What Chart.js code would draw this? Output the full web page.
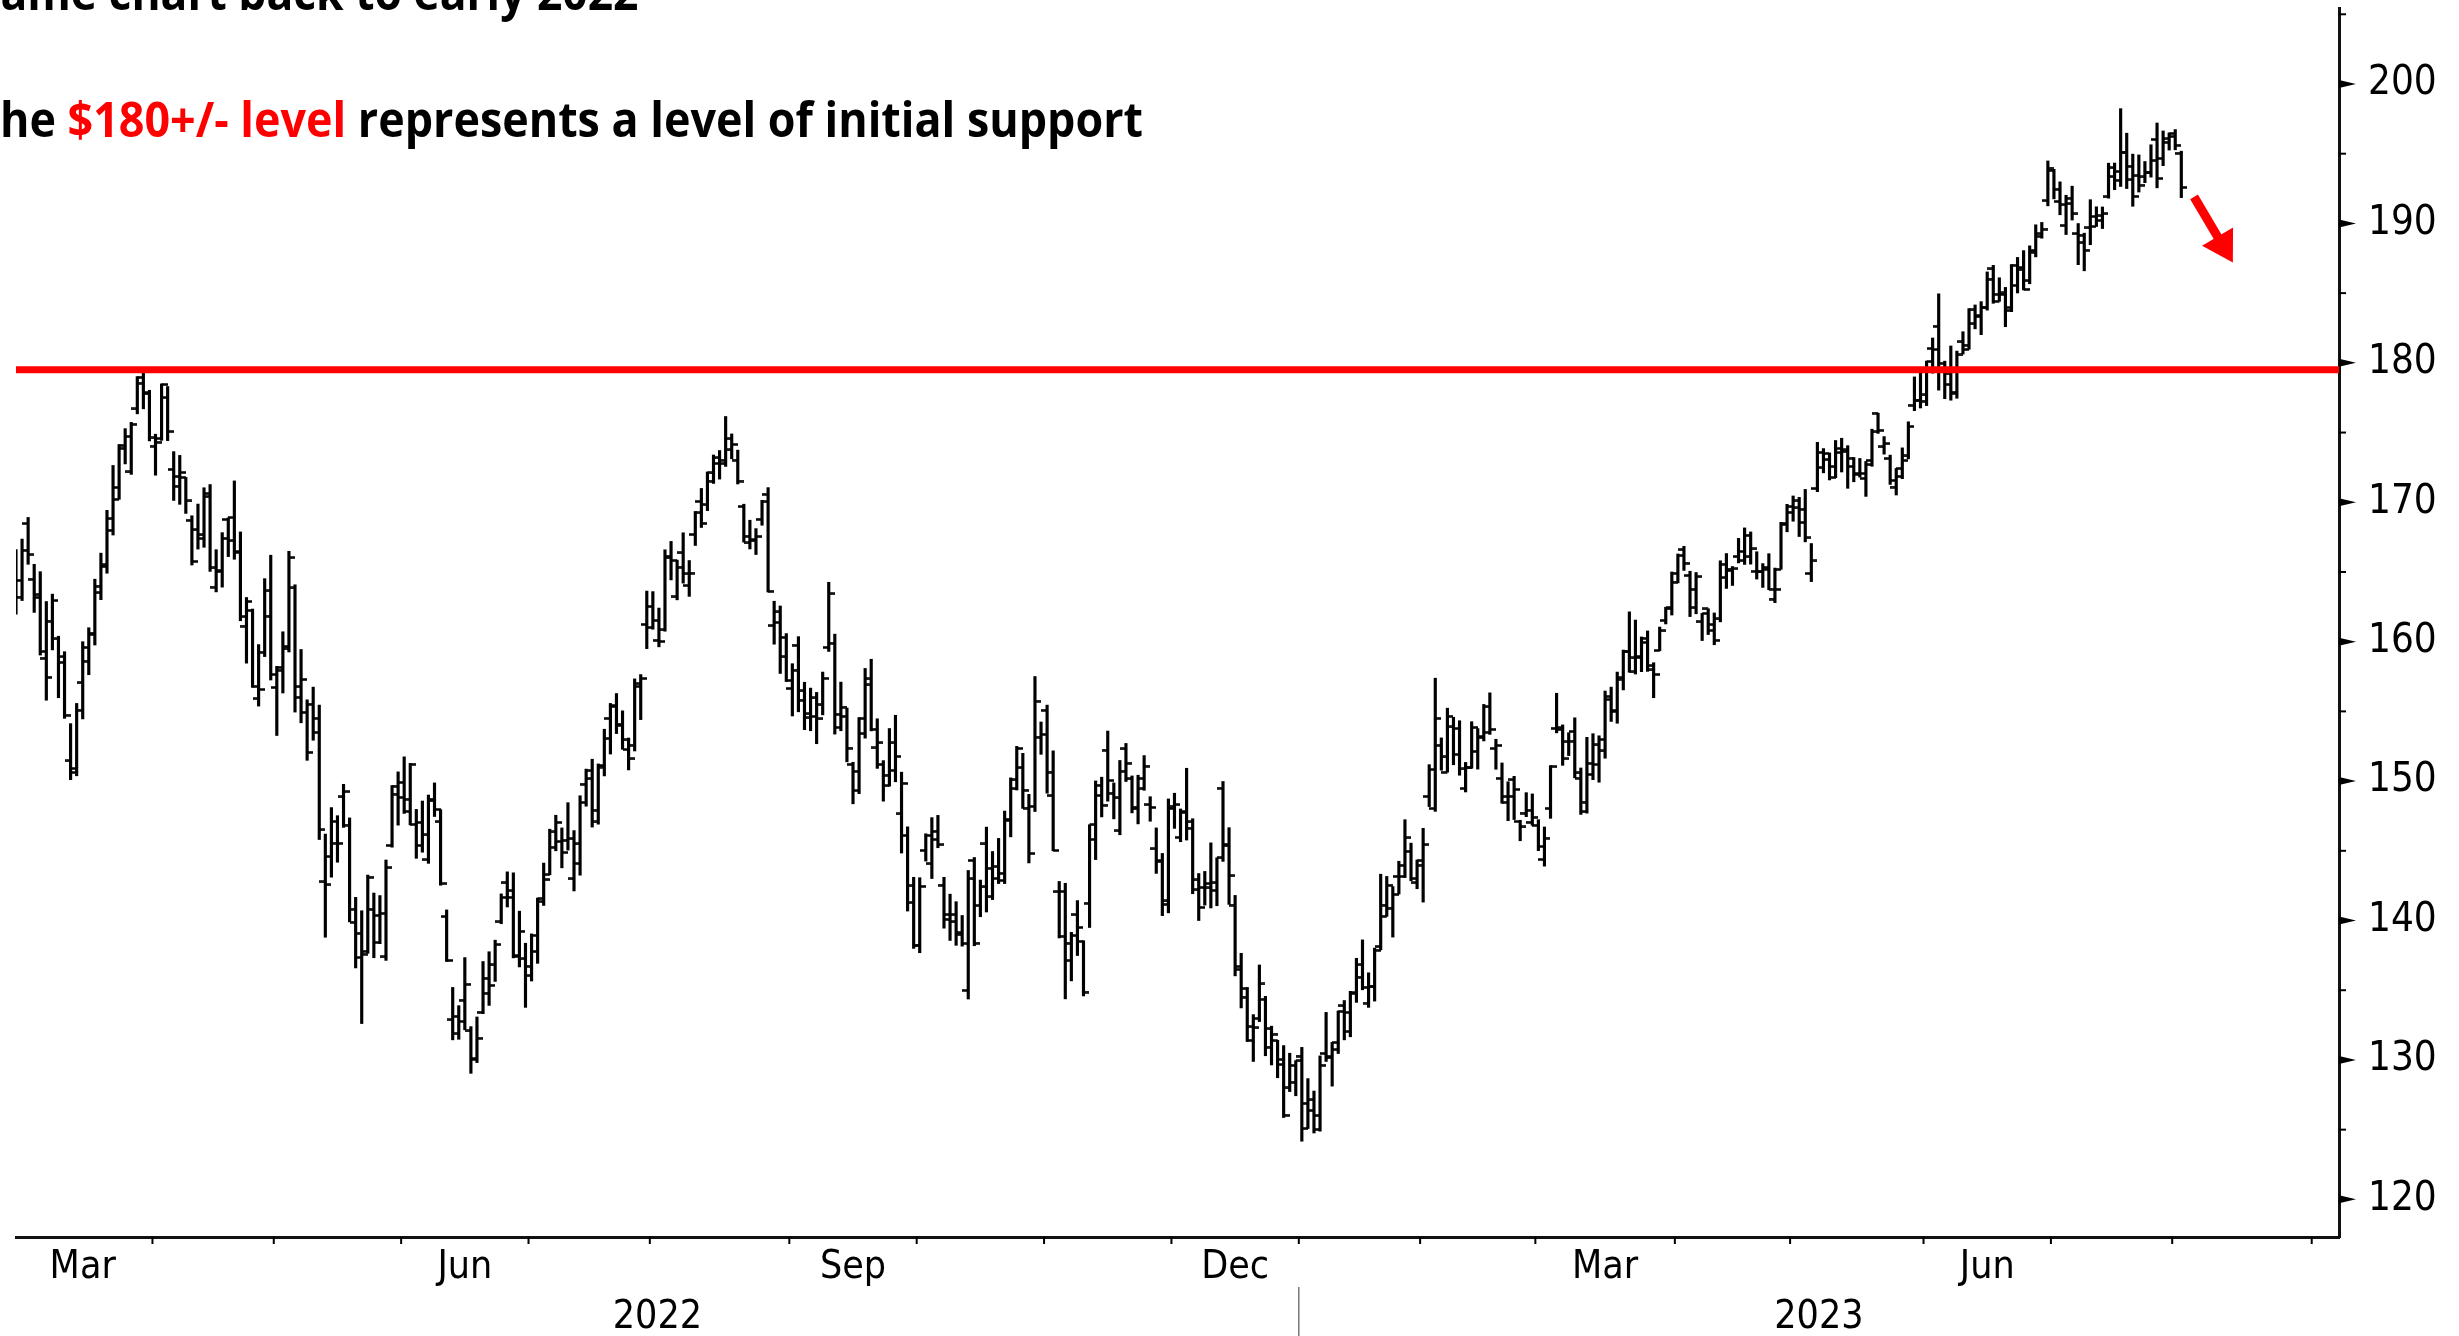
<!DOCTYPE html>
<html>
<head>
<meta charset="utf-8">
<title>Daily bars Mar 2022 - Aug 2023</title>
<script src="https://cdn.jsdelivr.net/npm/chart.js@4.4.1/dist/chart.umd.min.js"></script>
<style>
html, body { margin: 0; padding: 0; background: #fff; overflow: hidden; }
#page { position: relative; width: 2459px; height: 1336px; overflow: hidden; }
#chart-box { position: absolute; left: 0; top: 0; width: 2459px; height: 1336px; }
.note { position: absolute; left: 0; top: 0; white-space: nowrap; font-family: "Liberation Sans Narrow", "Open Sans", sans-serif; font-weight: bold; font-size: 49px; line-height: 1; color: #000; }
.note .red { color: #ff0000; }
.bl { display: inline-block; width: 0; height: 0; }
</style>
</head>
<body>
<div id="page">
  <div id="chart-box"><canvas id="chart"></canvas></div>
  <div class="note" id="note1"><span class="cut">S</span>ame chart back to early 2022<span class="bl"></span></div>
  <div class="note" id="note2"><span class="cut">T</span>he <span class="red">$180+/- level</span> represents a level of initial support<span class="bl"></span></div>
</div>
<script>
// months on the axis and how many trading days each one has (last one only partly shown)
var months = ['Mar','Apr','May','Jun','Jul','Aug','Sep','Oct','Nov','Dec','Jan','Feb','Mar','Apr','May','Jun','Jul','Aug','Sep'];
var monthYear = [2022,2022,2022,2022,2022,2022,2022,2022,2022,2022,2023,2023,2023,2023,2023,2023,2023,2023,2023];
var tradingDays = [23,20,21,21,20,23,21,21,21,21,20,19,23,19,22,21,20,23,5];
var monthTickLabels = ['Mar','','','Jun','','','Sep','','','Dec','','','Mar','','','Jun','','',''];
var years = ['2022','2023'];

var yTicks = [120,125,130,135,140,145,150,155,160,165,170,175,180,185,190,195,200,205];
var supportLevel = 179.5;

var opens = [
  164.70,164.39,168.47,164.49,163.36,158.82,161.48,160.20,158.93,151.45,150.90,157.05,158.61,160.51,163.51,165.51,167.99,171.06,173.88,172.17,176.69,178.55,177.84,
  174.03,174.57,177.50,172.36,171.16,171.78,168.71,168.02,167.39,170.62,163.92,165.02,168.76,168.91,166.46,161.12,162.25,155.91,159.25,161.84,
  156.71,158.15,159.67,163.85,156.01,154.93,155.52,153.50,142.77,144.59,145.55,148.86,146.85,139.88,139.09,137.79,140.81,138.43,137.39,145.39,149.07,
  149.90,147.83,146.90,147.03,144.35,148.58,147.08,140.28,132.87,133.13,134.29,132.08,130.07,133.42,134.79,136.82,139.90,142.70,142.13,137.46,137.25,
  136.04,137.77,141.35,143.29,145.26,145.67,145.76,142.99,144.08,149.78,150.74,147.92,151.12,154.50,155.39,154.01,152.26,152.58,156.98,161.24,
  161.01,160.10,160.84,166.01,163.21,166.37,164.02,167.68,170.06,169.82,171.52,172.78,172.77,173.75,173.03,169.69,167.08,167.32,168.78,170.57,161.15,162.13,160.31,
  156.64,159.75,156.47,154.82,154.64,155.47,159.59,159.90,154.79,154.65,151.21,149.31,153.40,157.34,152.38,151.19,149.66,152.74,147.64,146.10,141.28,
  138.21,145.03,144.07,145.81,142.54,140.42,139.90,139.13,134.99,144.31,141.07,145.49,141.69,143.02,142.87,147.19,150.09,150.96,148.07,148.20,153.16,
  155.08,148.95,142.06,142.09,137.11,140.41,138.50,141.24,145.82,148.97,152.22,149.13,146.43,152.31,150.16,148.13,149.45,148.31,145.14,144.29,141.40,
  148.21,145.96,147.77,147.07,142.19,142.36,142.34,142.70,149.50,145.35,141.11,136.69,135.11,131.39,132.98,134.35,130.92,131.38,129.67,127.99,128.41,
  130.28,126.89,127.13,126.01,130.47,130.26,131.25,133.88,132.03,134.83,136.82,134.08,135.28,138.12,140.31,140.89,143.17,143.16,144.96,142.70,
  143.97,148.90,148.03,152.57,150.64,153.88,153.78,149.46,150.95,152.12,153.11,153.51,152.35,150.20,148.87,150.09,147.11,147.71,147.05,
  146.83,144.38,148.04,153.79,153.70,152.81,153.56,150.21,147.81,151.28,151.19,152.16,156.08,155.07,157.32,159.30,158.83,158.86,159.94,157.97,159.37,161.53,162.44,
  164.27,166.60,164.74,162.43,161.42,162.35,161.22,161.63,164.59,165.09,166.10,165.80,166.09,165.05,165.00,165.19,163.06,165.19,168.49,
  169.28,170.09,169.50,164.89,170.98,172.48,173.05,172.55,173.85,173.62,173.16,171.99,171.71,173.00,176.39,173.98,173.13,171.09,172.41,173.32,176.96,177.33,
  177.70,181.03,182.63,179.97,178.44,177.90,181.50,181.27,182.80,183.37,183.96,186.73,184.41,184.90,183.74,185.55,186.83,185.89,187.93,189.08,191.63,
  193.78,191.57,189.84,191.41,189.26,189.16,189.68,190.50,190.23,191.90,193.35,193.10,195.09,194.10,193.41,193.33,193.67,196.02,194.67,196.06,
  196.24,195.04
];
var highs = [
  166.60,167.36,168.91,165.55,165.02,162.88,163.41,160.39,159.28,154.12,155.57,160.00,161.00,164.48,166.35,169.42,172.64,174.14,175.28,175.73,179.01,179.61,178.03,
  174.88,178.49,178.30,173.63,173.36,171.78,169.03,169.87,171.04,171.27,166.60,167.82,168.88,171.53,167.87,163.17,162.34,159.79,164.52,166.20,
  158.23,160.71,166.48,164.08,159.44,155.83,156.74,155.45,146.20,148.10,147.52,149.77,147.36,141.66,140.70,143.26,141.97,141.79,144.34,149.68,150.66,
  151.74,151.27,147.97,148.57,149.00,149.87,147.95,140.76,135.20,133.89,137.34,132.39,133.08,137.06,137.76,138.59,141.91,143.49,143.42,140.67,138.37,
  139.04,141.61,144.12,146.55,147.55,146.64,148.45,146.45,148.95,150.86,151.57,151.23,153.72,155.57,156.28,155.04,153.09,157.33,157.64,163.63,
  163.59,162.41,166.59,167.19,165.85,167.81,165.82,169.34,170.99,172.17,173.39,173.71,176.15,174.90,173.74,169.86,168.71,168.11,170.14,171.05,162.90,162.56,160.58,
  158.42,160.36,157.09,156.67,156.36,157.82,164.26,160.54,157.10,155.24,151.35,154.56,158.08,158.74,154.47,151.47,153.77,154.72,150.64,146.72,143.10,
  143.07,146.22,147.38,147.54,143.10,141.89,141.35,140.36,143.59,144.52,142.90,146.70,144.95,145.89,147.85,150.23,152.49,151.99,149.05,157.50,154.24,
  155.45,152.17,142.80,142.67,139.15,141.43,138.55,146.87,150.01,150.28,153.59,149.87,151.48,152.70,150.37,150.42,151.83,148.88,146.64,144.81,148.72,
  149.13,148.00,150.92,147.30,143.37,143.52,145.57,144.50,149.97,146.66,141.80,137.65,135.20,133.25,136.81,134.56,132.42,131.41,131.03,130.48,129.95,
  130.90,128.66,127.77,130.29,133.41,131.26,133.51,134.26,134.92,137.29,138.61,136.25,138.02,143.32,143.16,142.43,144.25,147.23,145.55,144.34,
  146.61,151.18,157.38,153.10,155.23,154.58,154.33,151.34,154.26,153.77,155.50,156.33,153.00,151.30,149.95,150.34,147.19,149.17,149.08,
  147.23,146.71,151.11,156.30,154.03,153.47,154.54,150.94,153.14,153.40,153.25,156.46,156.74,157.82,159.40,162.14,161.55,160.34,160.77,158.49,161.05,162.47,165.00,
  166.29,166.84,165.05,164.96,162.03,162.36,162.06,165.80,166.32,165.39,167.41,168.16,167.87,166.45,165.60,166.31,165.28,168.56,169.85,
  170.45,170.35,170.92,167.04,174.30,173.85,173.54,174.43,174.59,174.06,173.21,173.14,172.93,175.24,176.39,174.71,173.38,172.42,173.90,175.77,178.99,179.35,
  180.12,181.78,184.95,180.12,181.21,180.84,182.23,183.89,184.15,184.39,186.52,186.99,186.10,185.41,187.05,187.56,188.05,188.39,189.90,190.07,194.48,
  193.88,192.98,192.02,192.67,189.99,189.30,191.70,191.19,191.18,194.32,194.33,198.23,196.47,194.97,194.91,194.44,195.64,197.20,196.63,196.49,
  196.73,195.18
];
var lows = [
  161.97,162.95,165.55,162.10,159.04,155.80,159.41,155.98,154.50,150.10,150.38,154.46,157.63,159.76,163.01,164.91,167.65,170.21,172.75,172.00,176.34,176.70,174.40,
  171.94,174.44,174.42,170.13,169.85,169.20,165.50,166.64,166.77,165.04,163.57,163.91,166.10,165.91,161.50,158.46,156.72,155.38,158.93,157.25,
  153.27,156.32,159.26,154.95,154.18,151.49,152.93,145.81,138.80,143.11,144.18,146.68,139.90,136.60,132.61,137.65,137.33,138.34,137.14,145.26,146.84,
  147.68,146.86,144.46,144.90,144.10,147.46,142.53,137.06,131.44,131.48,132.16,129.04,129.81,133.32,133.91,135.63,139.77,140.97,137.32,136.67,133.77,
  135.66,136.93,141.08,143.28,145.00,143.78,145.05,142.12,143.25,148.20,146.70,146.91,150.37,151.94,153.41,152.28,150.80,152.16,154.41,159.50,
  160.89,159.63,160.75,164.43,163.00,164.20,163.25,166.90,168.19,169.40,171.35,171.66,172.57,173.12,171.31,167.14,166.65,166.25,168.35,163.56,159.82,157.72,157.14,
  154.67,154.97,153.69,153.61,152.68,154.75,159.30,153.37,153.61,151.38,148.37,149.10,153.08,153.60,150.91,148.56,149.64,149.95,144.84,140.68,138.00,
  137.69,144.26,143.01,145.22,139.45,138.57,138.22,138.16,134.37,138.19,140.27,140.61,141.50,142.65,142.65,146.00,149.36,148.04,144.13,147.82,151.92,
  149.13,145.00,138.75,134.38,135.67,137.49,134.59,139.50,144.37,147.43,148.56,147.29,146.15,149.97,147.72,146.93,149.34,147.12,143.38,140.35,140.55,
  146.61,145.65,145.77,141.92,140.00,141.10,140.90,141.06,144.24,141.16,136.03,133.73,131.32,129.89,132.75,130.30,129.64,128.72,125.87,127.73,127.43,
  124.17,125.08,124.76,124.89,129.89,128.12,130.46,131.44,131.66,134.13,135.03,133.77,134.22,137.90,140.30,138.81,141.90,143.08,142.85,142.28,
  141.32,148.17,147.83,150.78,150.64,151.17,150.42,149.22,150.92,150.86,152.88,153.35,150.85,148.41,147.16,147.24,145.72,147.45,146.83,
  145.01,143.90,147.33,153.46,151.13,151.83,150.23,147.61,147.70,150.10,149.92,151.64,154.28,154.15,156.54,157.81,157.68,157.85,157.87,155.98,159.35,161.27,161.91,
  164.22,165.11,161.80,162.00,160.08,160.51,159.78,161.42,163.82,164.03,165.65,165.54,165.56,164.49,163.89,163.73,162.80,165.19,167.88,
  168.64,167.54,167.16,164.31,170.76,172.11,171.60,171.76,172.17,171.00,171.47,171.80,170.42,172.58,174.94,173.45,171.28,170.52,171.69,173.11,176.57,176.76,
  176.93,179.26,178.04,177.43,177.32,177.46,180.63,180.97,182.44,182.02,183.78,184.27,184.41,182.59,183.67,185.01,185.23,185.67,187.60,188.94,191.26,
  191.76,190.62,189.20,190.24,187.04,186.60,188.47,189.78,189.63,191.81,192.42,192.65,192.50,191.23,192.25,192.92,193.32,192.55,194.14,195.26,
  195.28,191.85
];
var closes = [
  163.20,166.56,166.23,163.17,159.30,157.44,162.95,158.52,154.73,150.62,155.09,159.59,160.62,163.98,165.38,168.82,170.21,174.07,174.72,175.60,178.96,177.77,174.61,
  174.31,178.44,175.06,171.83,172.14,170.09,165.75,167.66,170.40,165.29,165.07,167.40,167.23,166.42,161.79,162.88,156.80,156.57,163.64,157.65,
  157.96,159.48,166.02,156.77,157.28,152.06,154.51,146.50,142.56,147.11,145.54,149.24,140.82,137.35,137.59,143.11,140.36,140.52,143.78,149.64,148.84,
  148.71,151.21,145.38,146.14,148.71,147.96,142.64,137.13,131.88,132.76,135.43,130.06,131.56,135.87,135.35,138.27,141.66,141.66,137.44,139.23,136.72,
  138.93,141.56,142.92,146.35,147.04,144.87,145.86,145.49,148.47,150.17,147.07,151.00,153.04,155.35,154.09,152.95,151.60,156.79,157.35,162.51,
  161.51,160.01,166.13,165.81,165.35,164.87,164.92,169.24,168.49,172.10,173.19,173.03,174.55,174.15,171.52,167.57,167.23,167.53,170.03,163.62,161.38,158.91,157.22,
  157.96,155.81,154.53,155.96,154.46,157.37,163.43,153.84,155.31,152.37,150.70,154.48,156.90,153.72,152.74,150.43,150.77,151.76,149.84,142.48,138.20,
  142.45,146.10,146.40,145.43,140.09,140.42,138.98,138.34,142.99,138.38,142.41,143.75,143.86,143.39,147.27,149.45,152.34,149.35,144.80,155.74,153.34,
  150.65,145.03,138.88,138.38,138.92,139.50,134.87,146.87,149.70,148.28,150.04,148.79,150.72,151.29,148.01,150.18,151.07,148.11,144.22,141.17,148.03,
  148.31,147.81,146.63,142.91,140.94,142.65,142.16,144.49,145.47,143.21,136.50,134.51,132.37,132.30,135.45,132.23,131.86,130.03,126.04,129.61,129.93,
  125.07,126.36,125.02,129.62,130.15,130.73,133.49,133.41,134.76,135.94,135.21,135.27,137.87,141.11,142.53,141.86,143.96,145.93,143.00,144.29,
  145.43,150.82,154.50,151.73,154.65,151.92,150.87,151.01,153.85,153.20,155.33,153.71,152.55,148.48,148.91,149.40,146.71,147.92,147.41,
  145.31,145.91,151.03,153.83,151.60,152.87,150.59,148.50,150.47,152.59,152.99,155.85,155.00,157.40,159.28,157.83,158.93,160.25,158.28,157.65,160.77,162.36,164.90,
  166.17,165.63,163.76,164.66,162.03,160.80,160.10,165.56,165.21,165.23,166.47,167.63,166.65,165.02,165.33,163.77,163.76,168.41,169.68,
  169.59,168.54,167.45,165.79,173.57,173.50,171.77,173.56,173.75,172.57,172.07,172.07,172.69,175.05,175.16,174.20,171.56,171.84,172.99,175.43,177.30,177.25,
  180.09,180.95,179.58,179.21,177.82,180.57,180.96,183.79,183.31,183.95,186.01,184.92,185.01,183.96,187.00,186.68,185.27,188.06,189.25,189.59,193.97,
  192.46,191.33,191.81,190.68,188.61,188.08,189.77,190.54,190.69,193.99,193.73,195.10,193.13,191.94,192.75,193.62,194.50,193.22,195.83,196.45,
  195.61,192.58
];

// where the red arrow sits, in (day index, price)
var arrowFrom = [359.1, 191.9];
var arrowTo = [365.5, 187.2];

var labels = [];
months.forEach(function(m, k){
    for (var d = 1; d <= tradingDays[k]; d++) labels.push(m + ' ' + monthYear[k] + ' #' + d);
});

var ranges = lows.map(function(l, i){ return [l, highs[i]]; });

function tickImage(side){
    var c = document.createElement('canvas');
    c.width = 12; c.height = 3;
    var g = c.getContext('2d');
    g.fillStyle = '#000';
    g.fillRect(side == 'left' ? 0 : 6, 0.25, 6, 2.5);
    return c;
}

var axisFont = '"DejaVu Sans Condensed", "DejaVu Sans", sans-serif';

var decorations = {
    id: 'decorations',
    afterDraw: function(chart){
        var ctx = chart.ctx, a = chart.chartArea, x = chart.scales.x, y = chart.scales.y;
        ctx.save();
        ctx.fillStyle = '#000';
        // y tick marks: arrows on the tens, short lines on the fives
        yTicks.forEach(function(v){
            var py = y.getPixelForValue(v);
            if (v % 10 === 0) {
                ctx.beginPath();
                ctx.moveTo(a.right, py - 4);
                ctx.lineTo(a.right + 17, py);
                ctx.lineTo(a.right, py + 4);
                ctx.closePath();
                ctx.fill();
            } else {
                ctx.fillRect(a.right, py - 1, 7, 2);
            }
        });
        // month boundaries
        var step = x.getPixelForValue(1) - x.getPixelForValue(0);
        var bounds = [], cum = 0;
        tradingDays.forEach(function(n){
            bounds.push(x.getPixelForValue(cum) - step / 2);
            cum += n;
        });
        bounds.push(a.right);
        for (var k = 1; k < tradingDays.length; k++) {
            ctx.fillRect(bounds[k] - 1, a.bottom, 2, 7);
        }
        ctx.font = '39px ' + axisFont;
        ctx.textAlign = 'center';
        ctx.textBaseline = 'alphabetic';
        monthTickLabels.forEach(function(m, k){
            if (!m) return;
            ctx.fillText(m, (bounds[k] + bounds[k + 1]) / 2, a.bottom + 41);
        });
        // years
        var yearStart = monthYear.indexOf(2023);
        var sep = bounds[yearStart];
        ctx.fillText(years[0], (a.left + sep) / 2, a.bottom + 91);
        ctx.fillText(years[1], (sep + a.right) / 2, a.bottom + 91);
        ctx.strokeStyle = '#777';
        ctx.lineWidth = 1.5;
        ctx.beginPath();
        ctx.moveTo(sep, a.bottom + 50);
        ctx.lineTo(sep, chart.height);
        ctx.stroke();

        // red arrow
        var x0 = x.getPixelForValue(arrowFrom[0]), y0 = y.getPixelForValue(arrowFrom[1]);
        var x1 = x.getPixelForValue(arrowTo[0]), y1 = y.getPixelForValue(arrowTo[1]);
        var dx = x1 - x0, dy = y1 - y0, len = Math.hypot(dx, dy), ux = dx / len, uy = dy / len;
        var headLen = 30, headHalf = 18;
        var bx = x1 - ux * headLen, by = y1 - uy * headLen;
        ctx.strokeStyle = '#ff0000';
        ctx.fillStyle = '#ff0000';
        ctx.lineWidth = 9;
        ctx.beginPath();
        ctx.moveTo(x0, y0);
        ctx.lineTo(bx + ux * 3, by + uy * 3);
        ctx.stroke();
        ctx.beginPath();
        ctx.moveTo(x1, y1);
        ctx.lineTo(bx - uy * headHalf, by + ux * headHalf);
        ctx.lineTo(bx + uy * headHalf, by - ux * headHalf);
        ctx.closePath();
        ctx.fill();
        ctx.restore();
    }
};

var ctx = document.getElementById('chart').getContext('2d');
window.myChart = new Chart(ctx, {
    type: 'bar',
    data: {
        labels: labels,
        datasets: [{
            type: 'line',
            label: 'support',
            data: [{x: labels[0], y: supportLevel}, {x: labels[labels.length - 1], y: supportLevel}],
            borderColor: '#ff0000',
            borderWidth: 7,
            pointRadius: 0,
            order: 0
        }, {
            type: 'line',
            label: 'open',
            data: opens,
            showLine: false,
            pointStyle: tickImage('left'),
            pointRadius: 3,
            clip: 0,
            order: 1
        }, {
            type: 'line',
            label: 'close',
            data: closes,
            showLine: false,
            pointStyle: tickImage('right'),
            pointRadius: 3,
            clip: 0,
            order: 1
        }, {
            type: 'bar',
            label: 'range',
            data: ranges,
            backgroundColor: '#000',
            borderWidth: 0,
            barThickness: 2.5,
            order: 2
        }]
    },
    options: {
        responsive: true,
        maintainAspectRatio: false,
        animation: false,
        events: [],
        layout: { padding: { left: 16, top: 8, right: 0, bottom: 99 } },
        plugins: { legend: { display: false }, tooltip: { enabled: false } },
        scales: {
            x: {
                type: 'category',
                offset: false,
                grid: { display: false },
                ticks: { display: false },
                border: { display: true, color: '#111', width: 3 },
                afterFit: function(s){ s.height = 0; s.paddingLeft = 0; s.paddingRight = 0; }
            },
            y: {
                position: 'right',
                min: 117.3,
                max: 205.45,
                grid: { display: false },
                border: { display: true, color: '#111', width: 3 },
                afterBuildTicks: function(s){ s.ticks = yTicks.map(function(v){ return {value: v}; }); },
                afterFit: function(s){ s.width = 120; s.paddingTop = 0; s.paddingBottom = 0; },
                ticks: {
                    padding: 21,
                    color: '#000',
                    font: { family: axisFont, size: 40 },
                    callback: function(v){ return v % 10 === 0 ? String(v) : ''; }
                }
            }
        }
    },
    plugins: [decorations]
});

// the two note lines run off the left edge; first letter is pushed out of view
function fitNote(id, visibleWidth, baseline){
    var el = document.getElementById(id);
    var cut = el.querySelector('.cut'), bl = el.querySelector('.bl');
    var cw = cut.getBoundingClientRect().width;
    var full = el.getBoundingClientRect().width;
    var s = visibleWidth / (full - cw);
    el.style.transformOrigin = '0 0';
    el.style.transform = 'scaleX(' + s + ')';
    el.style.left = (-cw * s) + 'px';
    el.style.top = (baseline - bl.offsetTop) + 'px';
}
fitNote('note1', 638, 10);
fitNote('note2', 1143, 137);
</script>
</body>
</html>
